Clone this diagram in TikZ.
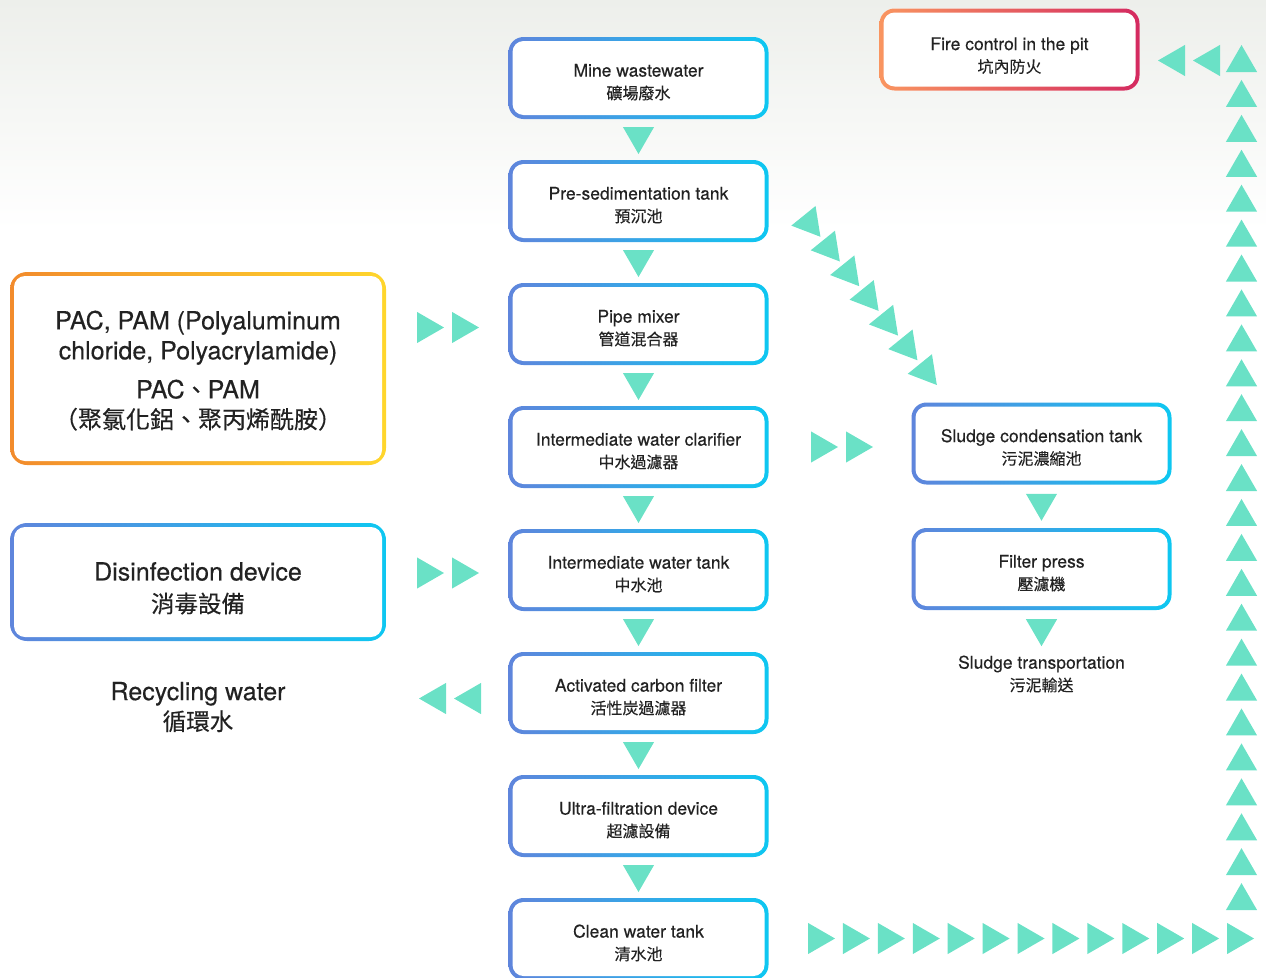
\documentclass[tikz,border=0pt]{standalone}
\usepackage{fontspec}
\setmainfont{TeX Gyre Heros}[FakeBold=0.35]
\newfontfamily\cjk{Noto Sans CJK TC}[FakeBold=0.3]
\usetikzlibrary{shapes.geometric,calc}
\definecolor{bluel}{HTML}{5F85DC}
\definecolor{bluer}{HTML}{0EC7F1}
\definecolor{orangel}{HTML}{F28B2C}
\definecolor{yellowr}{HTML}{FFD62C}
\definecolor{firel}{HTML}{F99560}
\definecolor{firer}{HTML}{D42A60}
\definecolor{mint}{HTML}{6AE1C6}
\definecolor{txt}{HTML}{222222}
\definecolor{bgtop}{HTML}{EDEFEB}
\newcommand{\zh}[2][16]{{\cjk\fontsize{#1}{#1}\selectfont #2}}
\newcommand{\tall}[1]{\rule{0pt}{#1}}
\begin{document}
\begin{tikzpicture}[x=1pt,y=-1pt,
  gradbox/.style 2 args={rounded corners=15pt, fill=white, inner sep=0pt, align=center, text=txt,
    path picture={
      \shade[left color=#1, right color=#2] (path picture bounding box.south west) rectangle (path picture bounding box.north east);
      \fill[white, rounded corners=11pt] ([xshift=4pt,yshift=4pt]path picture bounding box.south west)
        rectangle ([xshift=-4pt,yshift=-4pt]path picture bounding box.north east);}},
  stepbox/.style={gradbox={bluel}{bluer}, minimum width=260pt, minimum height=82pt,
    font=\fontsize{17.5}{22.5}\selectfont},
  sidebox/.style={gradbox={#1}, minimum width=376pt, rounded corners=17pt,
    font=\fontsize{25}{30}\selectfont},
  plain/.style={align=center, text=txt, inner sep=0pt},
  tri/.style={regular polygon, regular polygon sides=3, fill=mint, inner sep=0pt, minimum size=36pt},
  tridown/.style={tri, shape border rotate=180},
  triup/.style={tri},
  trileft/.style={tri, shape border rotate=90},
  triright/.style={tri, shape border rotate=-90},
  tridiag/.style={tri, shape border rotate=-21}]
\useasboundingbox (0,0) rectangle (1266,977);
\shade[top color=bgtop, bottom color=white] (0,0) rectangle (1266,230);

\node[stepbox] (c1) at (638.5,78) {\tall{21pt}Mine wastewater\\\zh{礦場廢水}};
\node[stepbox] (c2) at (638.5,201) {\tall{21pt}Pre-sedimentation tank\\\zh{預沉池}};
\node[stepbox] (c3) at (638.5,324) {\tall{21pt}Pipe mixer\\\zh{管道混合器}};
\node[stepbox] (c4) at (638.5,447) {\tall{21pt}Intermediate water clarifier\\\zh{中水過濾器}};
\node[stepbox] (c5) at (638.5,570) {\tall{21pt}Intermediate water tank\\\zh{中水池}};
\node[stepbox] (c6) at (638.5,693) {\tall{21pt}Activated carbon filter\\\zh{活性炭過濾器}};
\node[stepbox] (c7) at (638.5,816) {\tall{21pt}Ultra-filtration device\\\zh{超濾設備}};
\node[stepbox] (c8) at (638.5,939) {\tall{21pt}Clean water tank\\\zh{清水池}};

\node[stepbox] (s1) at (1041.5,443.5) {\tall{21pt}Sludge condensation tank\\\zh{污泥濃縮池}};
\node[stepbox] (s2) at (1041.5,569) {\tall{21pt}Filter press\\\zh{壓濾機}};
\node[plain, font=\fontsize{17.5}{22.5}\selectfont] (s3) at (1041.5,674) {Sludge transportation\\\zh{污泥輸送}};

\node[stepbox, gradbox={firel}{firer}] (fire) at (1009.5,49.5) {\tall{25pt}Fire control in the pit\\\zh{坑內防火}};

\node[sidebox={orangel}{yellowr}, minimum height=193pt] (pac) at (198,368.5)
  {\tall{23pt}PAC, PAM (Polyaluminum\\chloride, Polyacrylamide)\\[9pt]PAC\zh[23]{、}PAM\\\zh[24]{（聚氯化鋁、聚丙烯酰胺）}};
\node[sidebox={bluel}{bluer}, minimum height=118pt, font=\fontsize{25}{32}\selectfont] (dis) at (198,582)
  {\tall{31pt}Disinfection device\\\zh[23.5]{消毒設備}};
\node[plain, font=\fontsize{25}{30}\selectfont] (rec) at (198,707) {Recycling water\\\zh[23.5]{循環水}};

\foreach \a/\b [count=\i] in {c1/c2,c2/c3,c3/c4,c4/c5,c5/c6,c6/c7,c7/c8,s1/s2}
  \node[tridown, yshift=3.5pt] (dn\i) at ($(\a.south)!0.5!(\b.north)$) {};
\node[tridown] (dn9) at ($(s2.south)+(0,18)$) {};

\foreach \x [count=\i] in {426,461}{
  \node[triright] (pa\i) at (\x,327.5) {};
  \node[triright] (di\i) at (\x,573) {};
}
\foreach \x [count=\i] in {437,472}
  \node[trileft] (re\i) at (\x,698.5) {};
\foreach \x [count=\i] in {820,855}
  \node[triright] (sl\i) at (\x,447) {};
\foreach \x [count=\i] in {1176,1211}
  \node[trileft] (fi\i) at (\x,60.5) {};

\foreach \i in {0,...,6}
  \node[tridiag] (dg\i) at (809.1+19.4*\i,222.8+24.7*\i) {};
\foreach \i in {0,...,12}
  \node[triright] (bt\i) at (817+34.92*\i,938.5) {};
\foreach \i in {0,...,24}
  \node[triup] (up\i) at (1241.5,63+34.92*\i) {};
\end{tikzpicture}
\end{document}
